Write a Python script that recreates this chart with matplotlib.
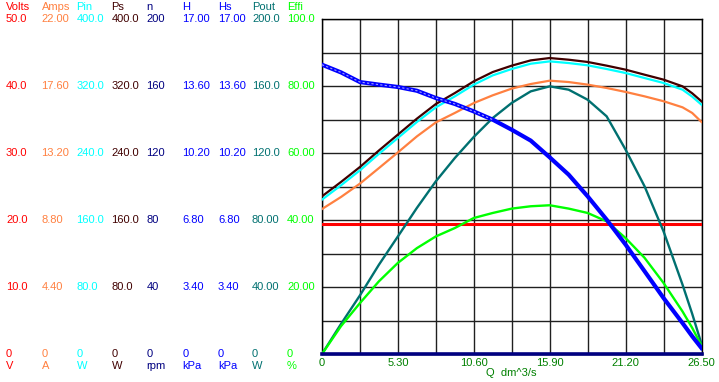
import matplotlib
matplotlib.use("Agg")
import matplotlib.pyplot as plt

plt.rcParams['font.family'] = ['Liberation Sans', 'DejaVu Sans']

# ---------------- data ----------------
Q = [0, 1.325, 2.65, 3.975, 5.3, 6.625, 7.95, 9.275, 10.6, 11.925, 13.25,
     14.575, 15.9, 17.225, 18.55, 19.875, 21.2, 22.525, 23.85, 25.175, 25.85, 26.5]
volts = [19.45] * 22
amps = [9.52, 10.31, 11.19, 12.21, 13.24, 14.29, 15.21, 15.83, 16.48, 16.99, 17.43,
        17.73, 17.95, 17.86, 17.69, 17.47, 17.21, 16.92, 16.6, 16.2, 15.83, 15.24]
ps = [188.3, 205.4, 223.3, 243.0, 262.0, 281.0, 298.5, 311.6, 325.6, 336.7, 344.3,
      350.6, 353.4, 351.4, 348.7, 344.3, 339.5, 333.5, 327.6, 319.6, 311.3, 301.7]
pin = [184.3, 201.4, 219.3, 239.0, 258.0, 277.0, 294.5, 307.6, 321.6, 332.7, 340.3,
       346.6, 349.4, 347.4, 344.7, 340.3, 335.5, 329.5, 323.6, 315.6, 307.3, 297.7]
n_rpm = [0] * 22
head = [14.68, 14.29, 13.80, 13.67, 13.55, 13.36, 12.99, 12.69, 12.31, 11.89, 11.38,
        10.83, 9.98, 9.10, 8.0, 6.82, 5.55, 4.2, 2.84, 1.57, 0.9, 0.3]
head_s = head
pout = [0, 17.9, 35.0, 53.3, 70.2, 87.2, 103.1, 117.0, 129.6, 140.9, 149.9,
        156.8, 159.8, 157.8, 151.8, 141.9, 122.0, 100.1, 73.2, 41.4, 24.0, 6.0]
effi = [0, 8.3, 15.2, 21.7, 27.2, 31.6, 35.1, 37.6, 40.6, 42.1, 43.4,
        44.1, 44.4, 43.4, 42.1, 39.6, 34.6, 28.7, 21.2, 12.7, 7.8, 2.5]

names = ['Volts', 'Amps', 'Pin', 'Ps', 'n', 'H', 'Hs', 'Pout', 'Effi']
units = ['V', 'A', 'W', 'W', 'rpm', 'kPa', 'kPa', 'W', '%']
scale_max = [50.0, 22.0, 400.0, 400.0, 200.0, 17.0, 17.0, 200.0, 100.0]
scale_labels = [
    ['50.0', '40.0', '30.0', '20.0', '10.0', '0'],
    ['22.00', '17.60', '13.20', '8.80', '4.40', '0'],
    ['400.0', '320.0', '240.0', '160.0', '80.0', '0'],
    ['400.0', '320.0', '240.0', '160.0', '80.0', '0'],
    ['200', '160', '120', '80', '40', '0'],
    ['17.00', '13.60', '10.20', '6.80', '3.40', '0'],
    ['17.00', '13.60', '10.20', '6.80', '3.40', '0'],
    ['200.0', '160.0', '120.0', '80.00', '40.00', '0'],
    ['100.0', '80.00', '60.00', '40.00', '20.00', '0'],
]
x_ticks = [0, 2.65, 5.3, 7.95, 10.6, 13.25, 15.9, 18.55, 21.2, 23.85, 26.5]
x_tick_labels = ['0', '', '5.30', '', '10.60', '', '15.90', '', '21.20', '', '26.50']
x_title = 'Q  dm^3/s'

colors = ['#ff0000', '#ff8040', '#00ffff', '#400000', '#000080',
          '#0000ff', '#0000ff', '#007070', '#00ff00']

# ---------------- figure ----------------
W, H = 719, 382
fig = plt.figure(figsize=(W / 100, H / 100), dpi=100)
fig.patch.set_facecolor('white')

L, R, T, B = 322, 701.5, 19, 354
ax = fig.add_axes([L / W, 1 - B / H, (R - L) / W, (B - T) / H])
ax.set_xlim(0, 26.5)
ax.set_ylim(0, 1)
ax.set_xticks(x_ticks)
ax.set_xticklabels(x_tick_labels, color='#008000', fontsize=8)
ax.set_yticks([i / 10 for i in range(11)])
ax.set_yticklabels([])
ax.tick_params(length=0, pad=3)
ax.grid(True, color='#202020', linewidth=1.0)
for s in ax.spines.values():
    s.set_color('black')
    s.set_linewidth(1.0)
ax.set_xlabel(x_title, color='#008000', fontsize=8, labelpad=0)
ax.set_axisbelow(True)

series = [volts, amps, pin, ps, n_rpm, head, head_s, pout, effi]
widths = [2.2, 1.6, 1.6, 1.6, 2.6, 3.0, 0.8, 1.7, 1.7]
order = [0, 1, 2, 3, 7, 8, 5, 6, 4]
for i in order:
    tw = ax.twinx()
    tw.set_ylim(0, scale_max[i])
    tw.set_axis_off()
    kw = {}
    c = colors[i]
    if names[i] == 'Hs':
        c = '#a0a0ff'
        kw['dashes'] = (2, 2)
    line, = tw.plot(Q, series[i], color=c, linewidth=widths[i],
                    solid_joinstyle='round', **kw)
    if names[i] == 'Hs':
        line.set_data(Q[:10], series[i][:10])
    if names[i] == 'n':
        line.set_clip_on(False)

# left scale columns
col_x = [6, 41.5, 76.5, 111.5, 146.5, 182.5, 218, 252, 287]
row_y = [19, 86, 153, 220, 287, 354]
for i, nm in enumerate(names):
    fx = col_x[i] / W
    fig.text(fx, 1 - 6.5 / H, nm, color=colors[i], fontsize=8, ha='left', va='center')
    for lab, yy in zip(scale_labels[i], row_y):
        fig.text(fx, 1 - yy / H, lab, color=colors[i], fontsize=8, ha='left', va='center')
    fig.text(fx, 1 - 366 / H, units[i], color=colors[i], fontsize=8, ha='left', va='center')

fig.savefig('out.png', dpi=100, facecolor='white')
